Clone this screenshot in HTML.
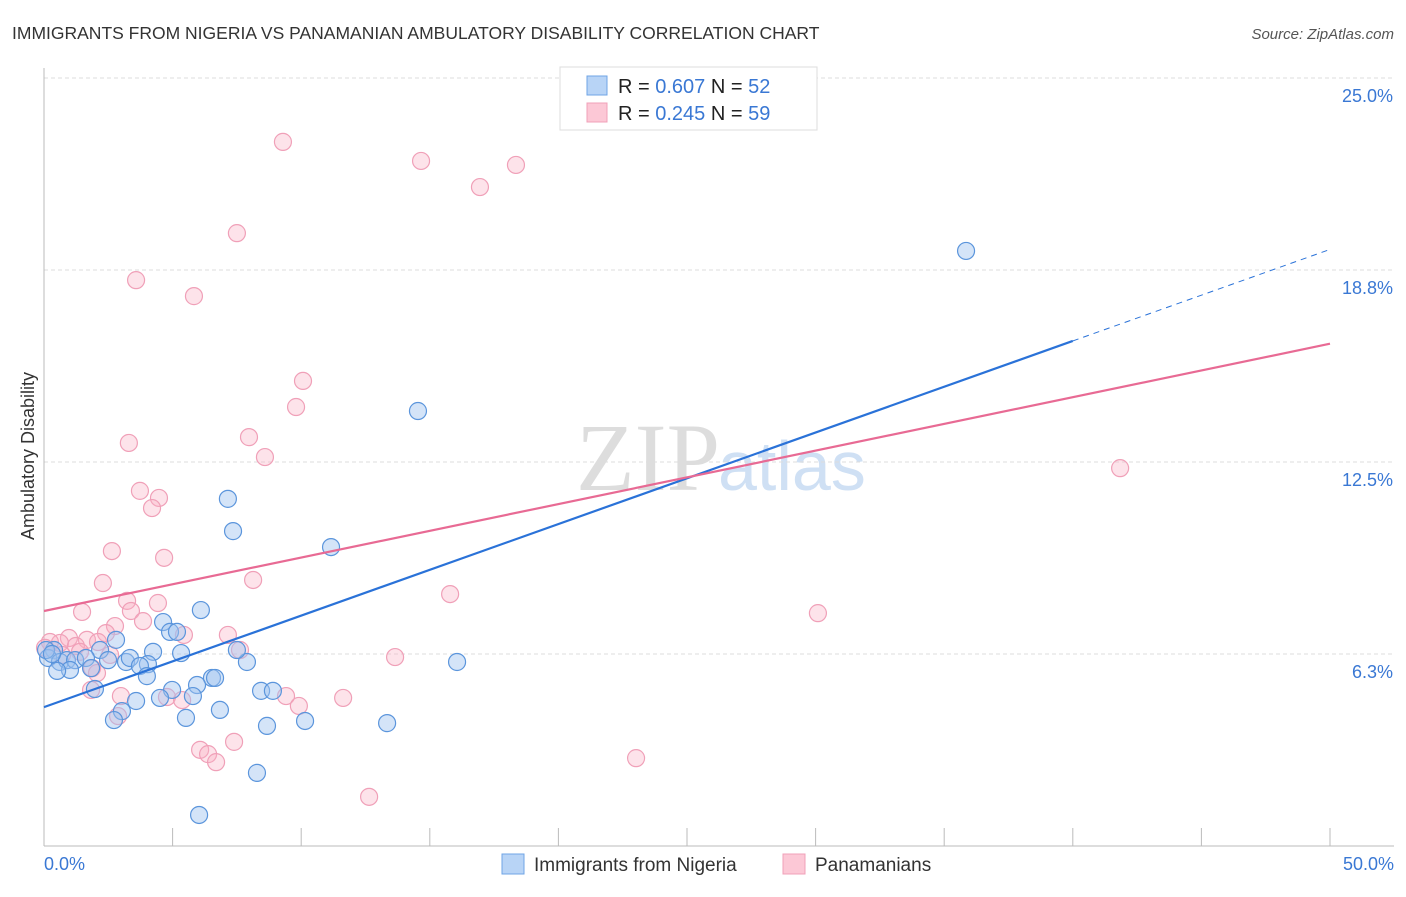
<!DOCTYPE html>
<html><head><meta charset="utf-8"><style>
body{margin:0;background:#fff;font-family:"Liberation Sans",sans-serif}
</style></head><body>
<svg id="c" width="1406" height="892" xmlns="http://www.w3.org/2000/svg" font-family="Liberation Sans, sans-serif">
<text x="12" y="39" font-size="17.5" fill="#333">IMMIGRANTS FROM NIGERIA VS PANAMANIAN AMBULATORY DISABILITY CORRELATION CHART</text>
<text x="1394" y="39" font-size="15" fill="#555" font-style="italic" text-anchor="end">Source: ZipAtlas.com</text>
<text x="720" y="490" font-size="96" fill="#ddd" text-anchor="end" font-family="Liberation Serif, serif">ZIP</text>
<text x="718" y="490" font-size="70" fill="#cfe0f4">atlas</text>
<text transform="translate(34,456) rotate(-90)" font-size="18" fill="#333" text-anchor="middle">Ambulatory Disability</text>
<g id="grid"></g><g id="pts"></g><g id="lines"></g>
<g>
<rect x="560" y="67" width="257" height="63" fill="#fff" stroke="#ddd"/>
<rect x="587" y="76" width="20" height="19" fill="#b8d4f6" stroke="#6fa4e6"/>
<rect x="587" y="103" width="20" height="19" fill="#fcc8d6" stroke="#f0a0b8"/>
<text x="618" y="93" font-size="20" fill="#222">R = <tspan fill="#3a78d4">0.607</tspan>   N = <tspan fill="#3a78d4">52</tspan></text>
<text x="618" y="120" font-size="20" fill="#222">R = <tspan fill="#3a78d4">0.245</tspan>   N = <tspan fill="#3a78d4">59</tspan></text>
</g>
<g>
<rect x="502" y="854" width="22" height="20" fill="#b8d4f6" stroke="#6fa4e6"/>
<text x="534" y="871" font-size="19" fill="#333">Immigrants from Nigeria</text>
<rect x="783" y="854" width="22" height="20" fill="#fcc8d6" stroke="#f0a0b8"/>
<text x="815" y="871" font-size="19" fill="#333">Panamanians</text>
</g>
</svg>
<script>
const blueX=[35.85,14.54,7.15,7.35,11.16,16.06,6.10,4.63,4.90,5.17,2.80,5.33,4.24,2.18,0.39,0.16,0.62,0.89,1.21,1.63,2.49,3.19,3.34,4.04,3.73,1.83,1.01,0.51,4.00,7.89,7.50,6.53,5.95,6.65,8.44,8.90,4.98,5.79,4.51,3.58,1.98,3.03,2.72,6.84,5.52,8.67,10.15,13.34,8.28,6.03,0.08,0.31];
const blueY=[19.37,14.16,11.30,10.25,9.73,5.99,7.68,7.29,6.97,6.97,6.71,6.28,6.32,6.38,6.38,6.12,5.99,6.05,6.05,6.12,6.05,5.99,6.12,5.92,5.86,5.79,5.73,5.70,5.53,5.99,6.38,5.47,5.24,5.47,5.05,5.05,5.08,4.88,4.82,4.72,5.11,4.39,4.10,4.43,4.17,3.91,4.07,4.00,2.38,1.01,6.38,6.25];
const pinkX=[9.29,14.66,18.35,16.95,7.50,3.58,5.83,10.07,9.80,3.30,7.97,8.59,3.73,4.47,4.20,2.64,4.67,8.13,2.29,3.23,4.43,1.48,3.38,3.85,2.76,2.41,5.44,7.15,1.67,0.97,0.62,0.23,0.04,1.24,2.10,1.40,0.70,2.57,7.62,1.87,2.06,13.65,15.79,30.09,41.84,2.99,1.83,4.78,5.37,9.41,9.91,11.63,7.39,6.07,6.38,6.69,12.64,23.02,2.88];
const pinkY=[22.92,22.30,22.17,21.45,19.95,18.42,17.90,15.14,14.29,13.12,13.31,12.66,11.56,11.33,11.00,9.60,9.38,8.66,8.56,7.98,7.91,7.62,7.65,7.32,7.16,6.93,6.87,6.87,6.71,6.77,6.61,6.64,6.45,6.51,6.64,6.32,6.22,6.22,6.38,5.79,5.63,6.15,8.20,7.58,12.30,4.88,5.08,4.85,4.75,4.88,4.56,4.82,3.39,3.13,2.99,2.73,1.60,2.86,4.23];
const blueFit=[4.52,0.298];
const pinkFit=[7.65,0.174];
const yTicks=[6.25,12.5,18.75,25];
const yTickLabels=["6.3%","12.5%","18.8%","25.0%"];
const xTicks=[0,5,10,15,20,25,30,35,40,45,50];
const NS="http://www.w3.org/2000/svg";
const sx=v=>44+v*25.72, sy=v=>846-v*30.72;
function mk(t,a,p){const e=document.createElementNS(NS,t);for(const k in a)e.setAttribute(k,a[k]);p.appendChild(e);return e;}
const grid=document.getElementById('grid');
yTicks.forEach((v,i)=>{
 const l=mk('line',{x1:44,x2:1394,y1:sy(v),y2:sy(v),stroke:'#ddd','stroke-dasharray':'4,3'},grid);
 
 
 const t=mk('text',{x:1393,y:sy(v)+24,'font-size':18,fill:'#3a78d4','text-anchor':'end'},grid);
 t.textContent=yTickLabels[i];
 
 
});
const ax=mk('line',{x1:44,x2:44,y1:68,y2:846,stroke:'#bbb'},grid);


const bx=mk('line',{x1:44,x2:1394,y1:846,y2:846,stroke:'#bbb'},grid);


xTicks.forEach(v=>{
 const l=mk('line',{x1:sx(v),x2:sx(v),y1:828,y2:846,stroke:'#bbb'},grid);
 
 
});
const t0=mk('text',{x:44,y:870,'font-size':18,fill:'#3a78d4'},grid);t0.textContent='0.0%';


const t1=mk('text',{x:1394,y:870,'font-size':18,fill:'#3a78d4','text-anchor':'end'},grid);t1.textContent='50.0%';


const pts=document.getElementById('pts');
pinkX.forEach((x,i)=>{
 const c=mk('circle',{cx:sx(x),cy:sy(pinkY[i]),r:8.5,fill:'rgba(248,175,196,0.35)',stroke:'#f0a0b8','stroke-width':1.2},pts);
 
 
});
blueX.forEach((x,i)=>{
 const c=mk('circle',{cx:sx(x),cy:sy(blueY[i]),r:8.5,fill:'rgba(160,196,240,0.45)',stroke:'#5b95dc','stroke-width':1.2},pts);
 
 
});
const lines=document.getElementById('lines');
const f=(p,x)=>p[0]+p[1]*x;
const b1=mk('line',{x1:sx(0),y1:sy(f(blueFit,0)),x2:sx(40),y2:sy(f(blueFit,40)),stroke:'#2a72d8','stroke-width':2.2},lines);


const b2=mk('line',{x1:sx(40),y1:sy(f(blueFit,40)),x2:sx(50),y2:sy(f(blueFit,50)),stroke:'#2a72d8','stroke-width':1,'stroke-dasharray':'6,5'},lines);


const p1=mk('line',{x1:sx(0),y1:sy(f(pinkFit,0)),x2:sx(50),y2:sy(f(pinkFit,50)),stroke:'#e86a94','stroke-width':2.2},lines);


</script>
</body></html>
